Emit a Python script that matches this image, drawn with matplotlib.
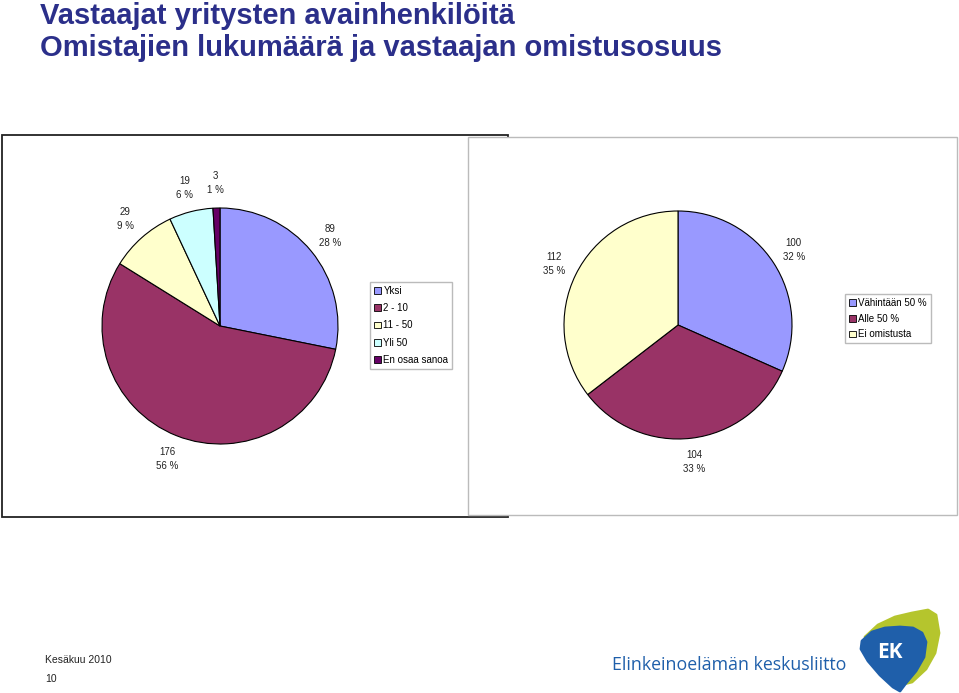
import matplotlib.pyplot as plt
from matplotlib.patches import Rectangle, Polygon

W, H = 959, 693

# data
omistajat_labels = ["Yksi", "2 - 10", "11 - 50", "Yli 50", "En osaa sanoa"]
omistajat_arvot = [89, 176, 29, 19, 3]
omistajat_varit = ["#9999FF", "#993366", "#FFFFCC", "#CCFFFF", "#660066"]

osuus_labels = ["Vähintään 50 %", "Alle 50 %", "Ei omistusta"]
osuus_arvot = [100, 104, 112]
osuus_varit = ["#9999FF", "#993366", "#FFFFCC"]

otsikko1 = "Vastaajat yritysten avainhenkilöitä"
otsikko2 = "Omistajien lukumäärä ja vastaajan omistusosuus"

fig = plt.figure(figsize=(W / 100, H / 100), dpi=100)


def px(x, y, w, h):
    # pixel box (top-left origin) -> figure fraction
    return [x / W, 1 - (y + h) / H, w / W, h / H]


# frames
fig.patches.append(Rectangle((2 / W, 1 - 517 / H), 506 / W, 382 / H,
                             transform=fig.transFigure, fill=False,
                             edgecolor="#222222", lw=1.3, zorder=1))
fig.patches.append(Rectangle((468 / W, 1 - 515 / H), 489 / W, 378 / H,
                             transform=fig.transFigure, facecolor="white",
                             edgecolor="#bbbbbb", lw=1.0, zorder=2))

fnt = ["Liberation Sans", "DejaVu Sans"]


def tee_pie(ax, arvot, varit):
    total = sum(arvot)

    def fmt(pct):
        val = int(round(pct * total / 100.0))
        return f"{val}\n{pct:.0f} %"

    wedges, _, autot = ax.pie(arvot, colors=varit, startangle=90,
                              counterclock=False, autopct=fmt, pctdistance=1.21,
                              wedgeprops=dict(edgecolor="black", linewidth=0.8),
                              textprops=dict(fontsize=7, family=fnt, color="#222222",
                                             linespacing=1.5))
    ax.set_xlim(-1.27, 1.27)
    ax.set_ylim(-1.27, 1.27)
    ax.set_aspect("equal")
    ax.axis("off")
    return wedges


# left pie: center (220,326) r=118
r = 118
ax1 = fig.add_axes(px(220 - 1.27 * r, 326 - 1.27 * r, 2.54 * r, 2.54 * r), zorder=3)
w1 = tee_pie(ax1, omistajat_arvot, omistajat_varit)

# right pie: center (678,325) r=114
r = 114
ax2 = fig.add_axes(px(678 - 1.27 * r, 325 - 1.27 * r, 2.54 * r, 2.54 * r), zorder=3)
w2 = tee_pie(ax2, osuus_arvot, osuus_varit)

leg_kw = dict(frameon=True, fancybox=False, edgecolor="#bbbbbb", framealpha=1,
              handlelength=0.7, handleheight=0.7, handletextpad=0.3,
              borderpad=0.4, labelspacing=0.75, prop=dict(size=7, family=fnt))
l1 = fig.legend(w1, omistajat_labels, loc="upper left",
                bbox_to_anchor=(365 / W, 1 - 277 / H), **leg_kw)
l2 = fig.legend(w2, osuus_labels, loc="upper left",
                bbox_to_anchor=(840 / W, 1 - 289 / H), **dict(leg_kw, labelspacing=0.6))
for lg in (l1, l2):
    lg.set_zorder(5)
    for h in lg.legend_handles:
        h.set_linewidth(0.6)

# titles
tfont = ["Liberation Sans Narrow", "Liberation Sans", "DejaVu Sans"]
fig.text(40 / W, 1 - 24 / H, otsikko1, fontsize=21, fontweight="bold",
         color="#2B2F8A", family=tfont, va="baseline", ha="left")
fig.text(40 / W, 1 - 56 / H, otsikko2, fontsize=21, fontweight="bold",
         color="#2B2F8A", family=tfont, va="baseline", ha="left")

# footer
fig.text(45 / W, 1 - 660 / H, "Kesäkuu 2010", fontsize=7.5, family=fnt,
         color="#222222", va="center")
fig.text(45 / W, 1 - 679 / H, "10", fontsize=7.5, family=fnt,
         color="#222222", va="center")

# logo text
fig.text(612 / W, 1 - 665 / H, "Elinkeinoelämän keskusliitto", fontsize=12.8,
         family=["Open Sans", "DejaVu Sans"], color="#1F5FAA", va="center", ha="left")

# EK emblem (approximate shape)
lax = fig.add_axes(px(850, 605, 100, 88))
lax.set_xlim(0, 100)
lax.set_ylim(88, 0)
lax.axis("off")
green = [(15, 32), (28, 20), (45, 12), (62, 8), (78, 5), (86, 10), (89, 28),
         (85, 48), (76, 64), (62, 77), (50, 80)]
lax.add_patch(Polygon(green, closed=True, facecolor="#B5C52D", edgecolor="#B5C52D",
                      lw=2, joinstyle="round"))
blue = [(12, 36), (22, 27), (35, 23), (50, 22), (63, 23), (72, 28), (76, 37),
        (74, 52), (66, 66), (56, 78), (50, 86), (43, 82), (30, 70), (18, 56), (11, 44)]
lax.add_patch(Polygon(blue, closed=True, facecolor="#1F5FAA", edgecolor="#1F5FAA",
                      lw=2, joinstyle="round"))
lax.text(40, 48, "EK", fontsize=15, fontweight="bold", color="white",
         family=["Open Sans", "DejaVu Sans"], ha="center", va="center")

fig.savefig("out.png", dpi=100)
